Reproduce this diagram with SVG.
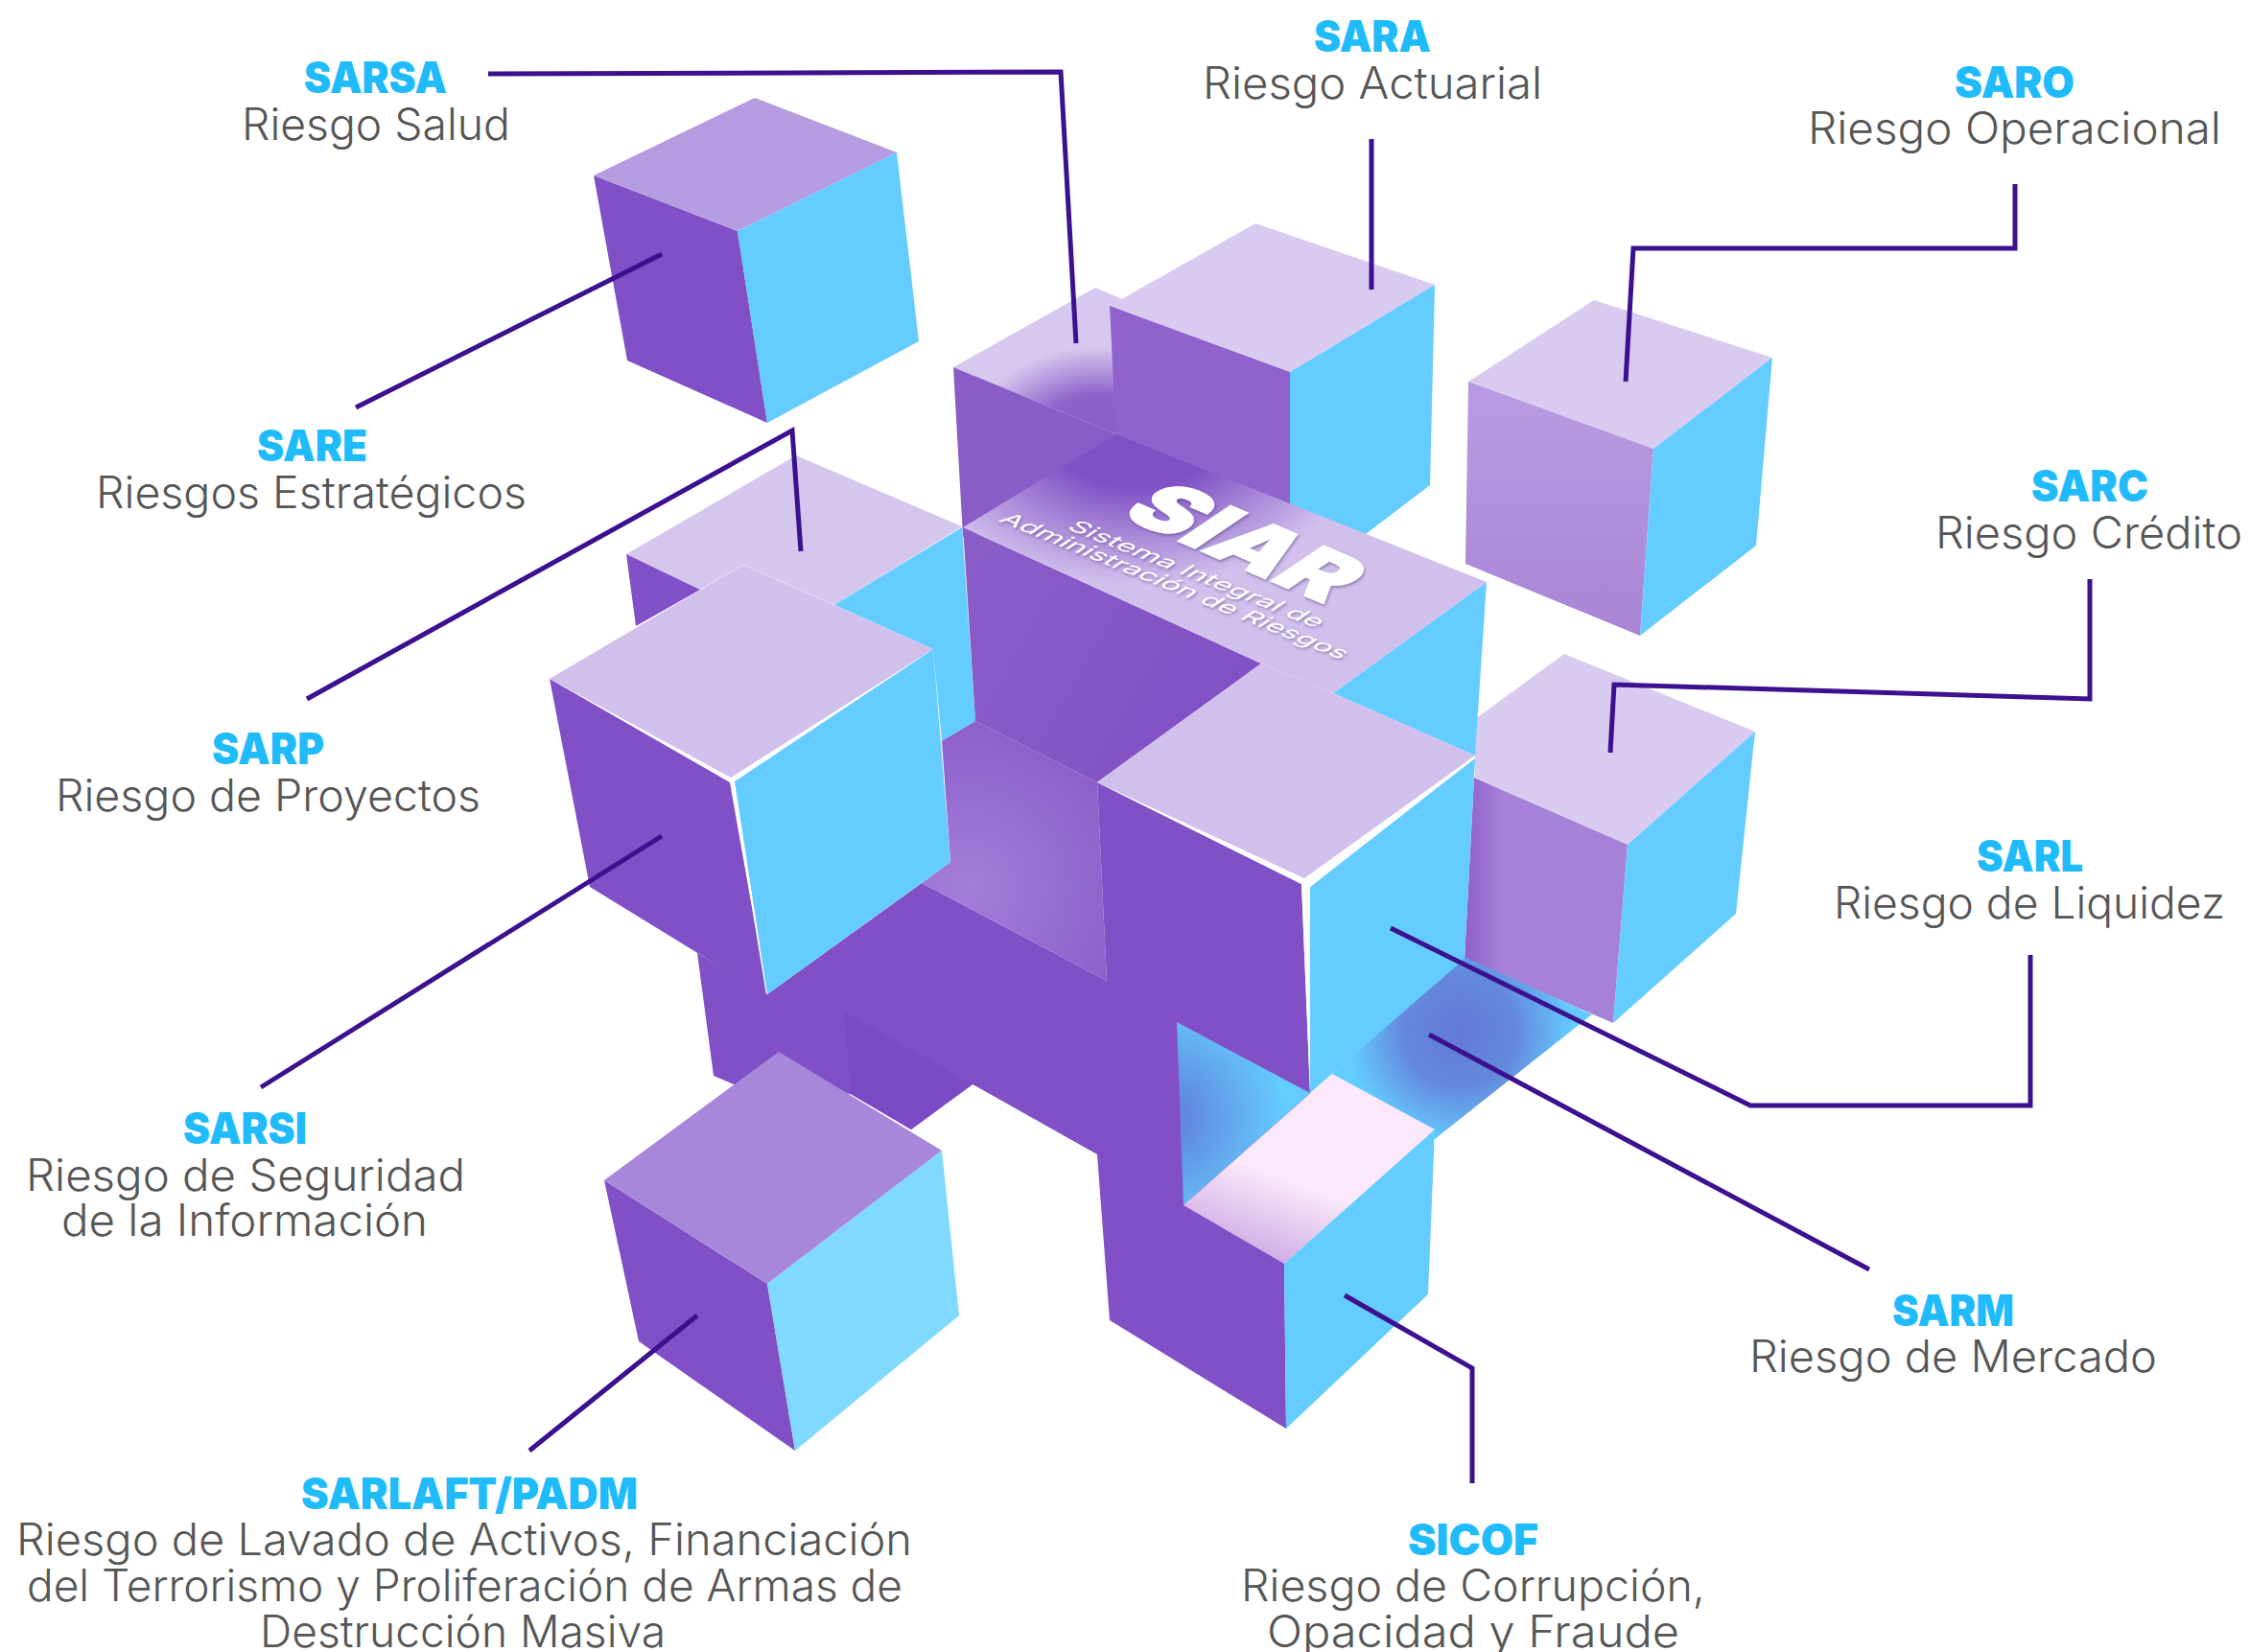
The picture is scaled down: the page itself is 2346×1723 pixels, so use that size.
<svg xmlns="http://www.w3.org/2000/svg" width="2346" height="1723" viewBox="0 0 2346 1723">
<style>
.t{font-family:"Inter","Liberation Sans",sans-serif;font-weight:900;font-size:45px;fill:#1fbbfb}
.s{font-family:"Inter","Liberation Sans",sans-serif;font-weight:300;font-size:46px;fill:#565656}
.c{fill:#64ccff}.p{fill:#8150c6}.l{fill:#d1c0ec}.l2{fill:#d9cbef}
.w{fill:#fff}
.w1{font-family:"Inter","Liberation Sans",sans-serif;fill:#fff}
#lines path{fill:none;stroke:#3c1190;stroke-width:5}
</style>
<defs>
<radialGradient id="gBack" gradientUnits="userSpaceOnUse" cx="0" cy="0" r="1" gradientTransform="translate(1145 462) scale(135 100)"><stop offset="0" stop-color="#8a5cc8"/><stop offset=".5" stop-color="#8e62ca"/><stop offset="1" stop-color="#d6c8ee"/></radialGradient>
<radialGradient id="gSiar" gradientUnits="userSpaceOnUse" cx="0" cy="0" r="1" gradientTransform="translate(1185 445) scale(240 165)"><stop offset="0" stop-color="#7f50c4"/><stop offset=".38" stop-color="#8050c5"/><stop offset="1" stop-color="#d1c0ec"/></radialGradient>
<radialGradient id="gInner" gradientUnits="userSpaceOnUse" cx="1010" cy="925" r="190"><stop offset="0" stop-color="#a47edb"/><stop offset="1" stop-color="#8a5cc8"/></radialGradient>
<linearGradient id="gWall" gradientUnits="userSpaceOnUse" x1="1010" y1="600" x2="1290" y2="760"><stop offset="0" stop-color="#8a5cc8"/><stop offset="1" stop-color="#8150c4"/></linearGradient>
<radialGradient id="gPanel" gradientUnits="userSpaceOnUse" cx="1215" cy="1165" r="125"><stop offset=".2" stop-color="#618ade"/><stop offset="1" stop-color="#64ccff"/></radialGradient>
<radialGradient id="gFloor" gradientUnits="userSpaceOnUse" cx="1522" cy="1075" r="118"><stop offset="0" stop-color="#637ad4"/><stop offset=".5" stop-color="#6488dc"/><stop offset="1" stop-color="#64ccff"/></radialGradient>
<linearGradient id="gPink" gradientUnits="userSpaceOnUse" x1="1300" y1="1310" x2="1332" y2="1225"><stop offset="0" stop-color="#cdaae4"/><stop offset="1" stop-color="#fbe9fb"/></linearGradient>
<linearGradient id="gSaro" gradientUnits="userSpaceOnUse" x1="1620" y1="430" x2="1620" y2="660"><stop offset="0" stop-color="#b699e0"/><stop offset="1" stop-color="#a985d6"/></linearGradient>
<linearGradient id="gSarc" gradientUnits="userSpaceOnUse" x1="1528" y1="950" x2="1568" y2="950"><stop offset="0" stop-color="#9060cc"/><stop offset="1" stop-color="#a582d8"/></linearGradient>
<filter id="sh" x="-10%" y="-20%" width="120%" height="140%"><feDropShadow dx="1" dy="2" stdDeviation="1.5" flood-color="#5a4a80" flood-opacity=".55"/></filter>
</defs>
<rect width="2346" height="1723" fill="#fff"/>

<g id="SARP">
<polygon fill="#d5c6ed" points="653,578 830,475 1003,549 870,631 775,589 730,615"/>
<polygon class="p" points="653,578 730,615 663,653"/>
<text class="t" x="221" y="797" textLength="117" lengthAdjust="spacingAndGlyphs">SARP</text>
<text class="s" x="58" y="846" textLength="443" lengthAdjust="spacingAndGlyphs">Riesgo de Proyectos</text>
</g>
<g id="SARSA">
<polygon points="994,383 1142,300 1175,314 1164,453" fill="url(#gBack)"/>
<polygon fill="#8a5cc8" points="994,383 1164,453 1172,520 1004,560"/>
<polygon class="p" points="619,183 769,241 800,441 654,376"/>
<polygon fill="#b59ce0" points="787,102 935,159 769,241 619,183"/>
<polygon class="c" points="769,241 935,159 958,356 800,441"/>
<text class="t" x="317" y="97" textLength="149" lengthAdjust="spacingAndGlyphs">SARSA</text>
<text class="s" x="252" y="146" textLength="280" lengthAdjust="spacingAndGlyphs">Riesgo Salud</text>
</g>
<g id="SARA">
<polygon class="l2" points="1157,319 1309,233 1496,297 1345,388"/>
<polygon fill="#8f62cc" points="1157,319 1345,388 1345,532 1164,460"/>
<polygon class="c" points="1345,388 1496,297 1491,506 1420,560 1345,532"/>
<text class="t" x="1370" y="54" textLength="122" lengthAdjust="spacingAndGlyphs">SARA</text>
<text class="s" x="1254" y="103" textLength="354" lengthAdjust="spacingAndGlyphs">Riesgo Actuarial</text>
</g>
<g id="SARO">
<polygon class="l2" points="1662,313 1848,373 1724,468 1531,398"/>
<polygon fill="url(#gSaro)" points="1531,398 1724,468 1710,663 1528,588"/>
<polygon class="c" points="1724,468 1848,373 1831,569 1710,663"/>
<text class="t" x="2038" y="102" textLength="125" lengthAdjust="spacingAndGlyphs">SARO</text>
<text class="s" x="1885" y="150" textLength="431" lengthAdjust="spacingAndGlyphs">Riesgo Operacional</text>
</g>
<g id="SARC">
<polygon class="l2" points="1631,682 1830,763 1697,881 1538,811 1538,750"/>
<polygon fill="url(#gSarc)" points="1537,811 1697,881 1682,1067 1527,1000"/>
<polygon class="c" points="1697,881 1830,763 1810,953 1682,1067"/>
<text class="t" x="2118" y="523" textLength="122" lengthAdjust="spacingAndGlyphs">SARC</text>
<text class="s" x="2018" y="572" textLength="320" lengthAdjust="spacingAndGlyphs">Riesgo Crédito</text>
</g>
<g id="SIAR">
<polygon class="c" points="1003,550 870,631 973,677 982,773 1017,752"/>
<polygon class="c" points="1550,607 1390,723 1538,788"/>
<polygon fill="url(#gWall)" points="1004,550 1315,692 1144,816 1017,752"/>
<polygon points="1164,453 1550,607 1390,723 1315,692 1004,550" fill="url(#gSiar)"/>
<polygon class="p" points="727,994 800,1037 961,921 1154,1023 1154,1210 1144,1204 1014,1131 950,1178 887,1141 765,1131 744,1122"/>
<polygon fill="#7c4ac4" points="880,1055 1014,1131 950,1178 887,1141"/>
<polygon fill="url(#gInner)" points="982,773 1017,752 1144,816 1154,1023 961,921 991,899"/>
<g filter="url(#sh)">
<text class="w1" font-size="100" font-weight="900" stroke="#fff" stroke-width="2" textLength="235" lengthAdjust="spacingAndGlyphs" transform="matrix(.918 .396 -.753 .507 1165 537)">SIAR</text>
<text class="w1" font-size="25" font-weight="400" textLength="281" lengthAdjust="spacingAndGlyphs" transform="matrix(.93 .37 -.75 .51 1111 551)">Sistema Integral de</text>
<text class="w1" font-size="25" font-weight="400" textLength="386" lengthAdjust="spacingAndGlyphs" transform="matrix(.927 .375 -.75 .51 1040 543)">Administración de Riesgos</text>
</g>
</g>
<g id="SARE">
<text class="t" x="268" y="481" textLength="115" lengthAdjust="spacingAndGlyphs">SARE</text>
<text class="s" x="100" y="530" textLength="449" lengthAdjust="spacingAndGlyphs">Riesgos Estratégicos</text>
</g>
<g id="SARSI">
<polygon class="p" points="573,708 763,815 799,1038 615,925"/>
<polygon class="l" points="573,708 775,589 973,677 763,813"/>
<polyline points="730,615 775,589 870,631" fill="none" stroke="#e6dcf4" stroke-width="1"/>
<polygon class="c" points="765,814 973,677 991,899 800,1037"/>
<polygon class="w" points="573,708 762,811 973,677 766,815 800,1037 761,816"/>
<text class="t" x="191" y="1193" textLength="129" lengthAdjust="spacingAndGlyphs">SARSI</text>
<text class="s" x="27" y="1242" textLength="458" lengthAdjust="spacingAndGlyphs">Riesgo de Seguridad</text>
<text class="s" x="64" y="1289" textLength="382" lengthAdjust="spacingAndGlyphs">de la Información</text>
</g>
<g id="SARL">
<polygon fill="url(#gFloor)" points="1389,1120 1527,998 1660,1058 1496,1188"/>
<polygon class="p" points="1144,816 1357,922 1366,1140 1388,1200 1339,1318 1341,1490 1157,1377 1144,1204 1154,1023"/>
<polygon fill="url(#gPanel)" points="1227,1066 1366,1140 1234,1257"/>
<polygon class="c" points="1366,925 1538,791 1527,1000 1389,1120 1366,1140"/>
<polygon class="l" points="1144,816 1315,692 1390,723 1538,788 1360,918"/>
<polygon class="w" points="1144,816 1360,916 1538,788 1366,925 1366,1140 1357,922"/>
<text class="t" x="2061" y="909" textLength="111" lengthAdjust="spacingAndGlyphs">SARL</text>
<text class="s" x="1912" y="958" textLength="408" lengthAdjust="spacingAndGlyphs">Riesgo de Liquidez</text>
</g>
<g id="SICOF">
<polygon fill="url(#gPink)" points="1389,1120 1496,1178 1339,1318 1234,1257"/>
<polygon class="c" points="1496,1178 1339,1318 1341,1490 1489,1350"/>
<text class="t" x="1468" y="1622" textLength="136" lengthAdjust="spacingAndGlyphs">SICOF</text>
<text class="s" x="1294" y="1670" textLength="484" lengthAdjust="spacingAndGlyphs">Riesgo de Corrupción,</text>
<text class="s" x="1321" y="1718" textLength="430" lengthAdjust="spacingAndGlyphs">Opacidad y Fraude</text>
</g>
<g id="SARM">
<text class="t" x="1973" y="1383" textLength="127" lengthAdjust="spacingAndGlyphs">SARM</text>
<text class="s" x="1824" y="1431" textLength="425" lengthAdjust="spacingAndGlyphs">Riesgo de Mercado</text>
</g>
<g id="SARLAFT">
<polygon class="p" points="630,1231 800,1339 829,1513 666,1399"/>
<polygon fill="#a787da" points="812,1097 982,1200 800,1339 630,1231"/>
<polygon fill="#80d9ff" points="800,1339 982,1200 1000,1372 829,1513"/>
<text class="t" x="314" y="1574" textLength="351" lengthAdjust="spacingAndGlyphs">SARLAFT/PADM</text>
<text class="s" x="17" y="1622" textLength="934" lengthAdjust="spacingAndGlyphs">Riesgo de Lavado de Activos, Financiación</text>
<text class="s" x="28" y="1670" textLength="913" lengthAdjust="spacingAndGlyphs">del Terrorismo y Proliferación de Armas de</text>
<text class="s" x="271" y="1718" textLength="423" lengthAdjust="spacingAndGlyphs">Destrucción Masiva</text>
</g>
<g id="lines">
<path d="M509 77 1106 75 1122 358"/>
<path d="M1430 145V302"/>
<path d="M2101 192V259H1703L1695 398"/>
<path d="M2179 604V729L1683 714 1679 785"/>
<path d="M2117 996V1153H1825L1450 968"/>
<path d="M1949 1324 1490 1079"/>
<path d="M1535 1547V1427L1402 1351"/>
<path d="M552 1513 727 1372"/>
<path d="M272 1134 690 872"/>
<path d="M320 729 826 449 835 575"/>
<path d="M371 425 690 265"/>
</g>
</svg>
